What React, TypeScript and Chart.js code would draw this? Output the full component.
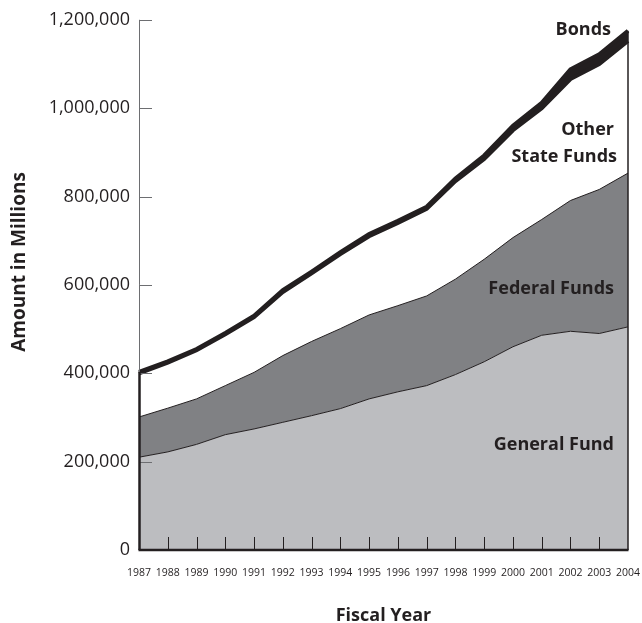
import React, { useEffect, useRef } from "react";
import { Chart, registerables } from "chart.js";

Chart.register(...registerables);

// Fiscal years
const years = [
  "1987", "1988", "1989", "1990", "1991", "1992", "1993", "1994", "1995",
  "1996", "1997", "1998", "1999", "2000", "2001", "2002", "2003", "2004",
];

// Amounts in millions (stacked layers)
const generalFund = [
  210000, 222000, 239000, 261000, 274000, 289000, 304000, 320000, 342000,
  358000, 372000, 397000, 426000, 460000, 486000, 495000, 490000, 505000,
];
const federalFunds = [
  91000, 99000, 103000, 111000, 128000, 151000, 168000, 181000, 190000,
  195000, 203000, 216000, 232000, 247000, 262000, 296000, 326000, 348000,
];
const otherStateFunds = [
  99000, 103000, 110000, 116000, 125000, 144000, 154000, 169000, 178000,
  187000, 197000, 222000, 227000, 243000, 252000, 275000, 284000, 299000,
];
const bonds = [
  3000, 3000, 3000, 3000, 3000, 4000, 4000, 4000, 5000,
  5000, 5000, 6000, 8000, 10000, 12000, 22000, 22000, 23000,
];

const yTickValues = [0, 200000, 400000, 600000, 800000, 1000000, 1200000];
const seriesNames = ["General Fund", "Federal Funds", "Other State Funds", "Bonds"];

const FONT = "'Open Sans', 'DejaVu Sans', sans-serif";
const INK = "#231f20";
const LIGHT = "#bcbdc0";
const DARK = "#808184";
const AXIS_GRAY = "#6d6e71";

const decorPlugin = {
  id: "decor",
  afterDatasetsDraw(chart: any) {
    const { ctx, chartArea: a, scales } = chart;
    const xs = scales.x;
    const ys = scales.y;
    const n = years.length;
    const total = (i: number) =>
      generalFund[i] + federalFunds[i] + otherStateFunds[i] + bonds[i];

    ctx.save();
    // left axis (thin gray)
    ctx.strokeStyle = AXIS_GRAY;
    ctx.lineWidth = 1;
    ctx.beginPath();
    ctx.moveTo(a.left + 0.5, a.top);
    ctx.lineTo(a.left + 0.5, a.bottom);
    ctx.stroke();
    // y tick marks (inside)
    yTickValues.forEach((v) => {
      if (v === 0) return;
      const py = Math.round(ys.getPixelForValue(v)) + 0.5;
      ctx.beginPath();
      ctx.moveTo(a.left, py);
      ctx.lineTo(a.left + 13, py);
      ctx.stroke();
    });

    // left edge of filled area
    ctx.strokeStyle = INK;
    ctx.lineWidth = 2.5;
    ctx.beginPath();
    ctx.moveTo(a.left + 0.5, a.bottom);
    ctx.lineTo(a.left + 0.5, ys.getPixelForValue(total(0)));
    ctx.stroke();
    // right edge
    ctx.lineWidth = 1.5;
    ctx.beginPath();
    ctx.moveTo(a.right, a.bottom);
    ctx.lineTo(a.right, ys.getPixelForValue(total(n - 1)));
    ctx.stroke();
    // bottom axis
    ctx.lineWidth = 2.5;
    ctx.beginPath();
    ctx.moveTo(a.left - 0.5, a.bottom);
    ctx.lineTo(a.right + 0.5, a.bottom);
    ctx.stroke();
    // x tick marks (inside, upward)
    ctx.lineWidth = 1;
    for (let i = 1; i < n - 1; i++) {
      const px = Math.round(xs.getPixelForValue(i)) + 0.5;
      ctx.beginPath();
      ctx.moveTo(px, a.bottom);
      ctx.lineTo(px, a.bottom - 13);
      ctx.stroke();
    }

    // in-chart series labels
    ctx.fillStyle = INK;
    ctx.font = `bold 18px ${FONT}`;
    ctx.textAlign = "right";
    ctx.textBaseline = "middle";
    ctx.fillText(seriesNames[3], a.right - 17, ys.getPixelForValue(1177000));
    ctx.fillText("Other", a.right - 14, ys.getPixelForValue(950000));
    ctx.fillText("State Funds", a.right - 11, ys.getPixelForValue(890000));
    ctx.fillText(seriesNames[1], a.right - 14, ys.getPixelForValue(591000));
    ctx.fillText(seriesNames[0], a.right - 14, ys.getPixelForValue(239000));

    // axis titles
    ctx.textAlign = "center";
    ctx.textBaseline = "alphabetic";
    ctx.fillText("Fiscal Year", (a.left + a.right) / 2, chart.height - 2);
    ctx.save();
    ctx.font = `bold 19px ${FONT}`;
    ctx.translate(25, 262);
    ctx.rotate(-Math.PI / 2);
    ctx.fillText("Amount in Millions", 0, 0);
    ctx.restore();

    ctx.restore();
  },
};

export default function App() {
  const canvasRef = useRef<HTMLCanvasElement | null>(null);

  useEffect(() => {
    const canvas = canvasRef.current;
    if (!canvas) return;
    const common = { pointRadius: 0, pointHoverRadius: 0, tension: 0 };
    const chart = new Chart(canvas, {
      type: "line",
      data: {
        labels: years,
        datasets: [
          {
            ...common,
            label: seriesNames[0],
            data: generalFund,
            fill: "origin",
            backgroundColor: LIGHT,
            borderColor: INK,
            borderWidth: 1,
          },
          {
            ...common,
            label: seriesNames[1],
            data: federalFunds,
            fill: "-1",
            backgroundColor: DARK,
            borderColor: INK,
            borderWidth: 1,
          },
          {
            ...common,
            label: seriesNames[2],
            data: otherStateFunds,
            fill: "-1",
            backgroundColor: "#ffffff",
            borderColor: INK,
            borderWidth: 4,
          },
          {
            ...common,
            label: seriesNames[3],
            data: bonds,
            fill: "-1",
            backgroundColor: INK,
            borderColor: INK,
            borderWidth: 4,
          },
        ],
      },
      options: {
        animation: false,
        responsive: true,
        maintainAspectRatio: false,
        layout: { padding: { top: 18, right: 14, left: 0, bottom: 0 } },
        plugins: {
          legend: { display: false },
          tooltip: { enabled: false },
          title: { display: false },
        },
        scales: {
          x: {
            type: "category",
            offset: false,
            grid: { display: false, drawTicks: false },
            border: { display: false },
            ticks: {
              color: INK,
              font: { family: FONT, size: 10.5 },
              padding: 17,
              maxRotation: 0,
              autoSkip: false,
            },
            afterFit: (s: any) => {
              s.height = 73;
              s.paddingLeft = 0;
              s.paddingRight = 0;
            },
          },
          y: {
            stacked: true,
            min: 0,
            max: 1200000,
            grid: { display: false, drawTicks: false },
            border: { display: false },
            ticks: {
              stepSize: 200000,
              color: INK,
              font: { family: FONT, size: 18 },
              padding: 9,
              callback: (v: any) => Number(v).toLocaleString("en-US"),
            },
            afterFit: (s: any) => {
              s.width = 139;
            },
          },
        },
      },
      plugins: [decorPlugin],
    });
    return () => chart.destroy();
  }, []);

  return (
    <div style={{ position: "absolute", left: 0, top: 0, width: 642, height: 623, background: "#fff" }}>
      <canvas ref={canvasRef} />
    </div>
  );
}
